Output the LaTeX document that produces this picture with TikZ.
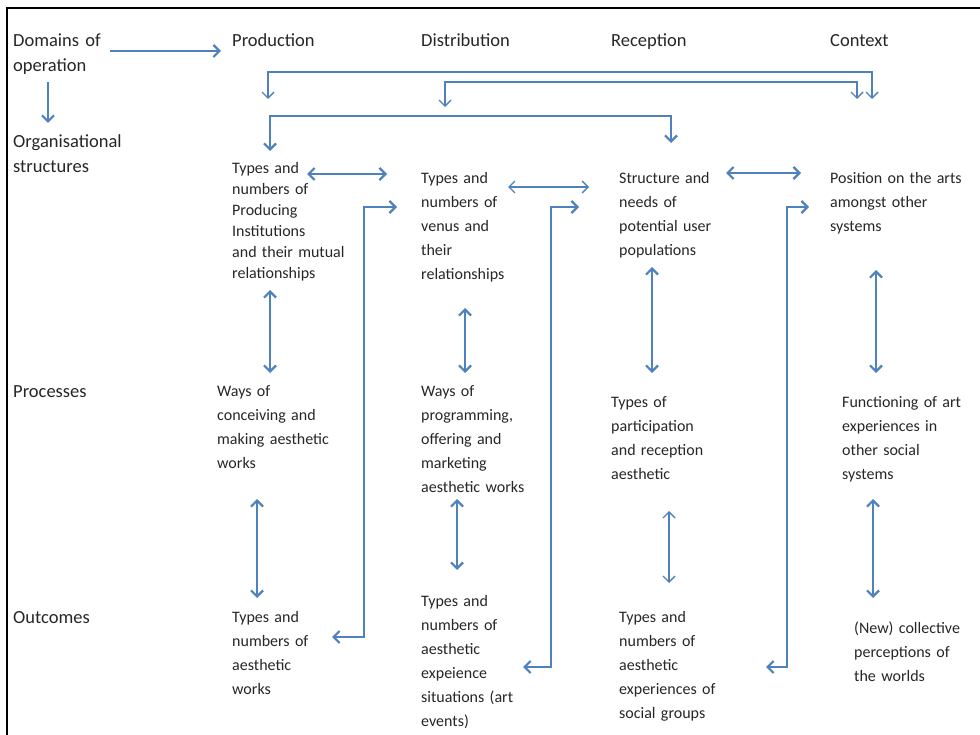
\documentclass[tikz,border=0pt]{standalone}
\usepackage{fontspec}
\setmainfont{Carlito}
\usetikzlibrary{arrows.meta}
\definecolor{linkblue}{RGB}{79,129,189}
\definecolor{inkgray}{RGB}{38,38,38}

\begin{document}
\begin{tikzpicture}[x=1pt,y=-1pt]
 \tikzset{
  heading/.style={anchor=base west,inner sep=0pt,text width=170pt,align=left,text=inkgray,font=\fontsize{18.5}{25}\selectfont},
  cell/.style={anchor=base west,inner sep=0pt,text width=150pt,align=left,text=inkgray,font=\fontsize{16}{24}\selectfont},
  barb/.tip={Straight Barb[length=6pt,width=12pt]},
  link/.style={draw=linkblue,line width=2.2pt,barb-barb},
  thinlink/.style={link,line width=1.4pt},
  pointer/.style={draw=linkblue,line width=2.2pt,-barb}
 }
 \useasboundingbox (0,0) rectangle (980,735);
 \draw[line width=2.5pt] (7,735) -- (7,8) -- (980,8);

 % row and column headings
 \node[heading] (dom) at (13,47) {Domains of\\operation};
 \node[heading] (org) at (13,148) {Organisational\\structures};
 \node[heading] (proc) at (13,397) {Processes};
 \node[heading] (outc) at (13,623) {Outcomes};
 \node[heading] (prod) at (232,47) {Production};
 \node[heading] (dist) at (421,47) {Distribution};
 \node[heading] (recp) at (611,47) {Reception};
 \node[heading] (ctx) at (830,47) {Context};

 % production
 \node[cell,font=\fontsize{16}{21}\selectfont] (ps) at (232,174) {Types and\\numbers of\\Producing\\Institutions\\and their mutual\\relationships};
 \node[cell] (pp) at (217,396) {Ways of\\conceiving and\\making aesthetic\\works};
 \node[cell] (po) at (232,622) {Types and\\numbers of\\aesthetic\\works};
 % distribution
 \node[cell] (ds) at (421,184) {Types and\\numbers of\\venus and\\their\\relationships};
 \node[cell] (dp) at (421,396) {Ways of\\programming,\\offering and\\marketing\\aesthetic works};
 \node[cell] (dout) at (421,606) {Types and\\numbers of\\aesthetic\\expeience\\situations (art\\events)};
 % reception
 \node[cell] (rs) at (619,184) {Structure and\\needs of\\potential user\\populations};
 \node[cell] (rp) at (611,407) {Types of\\participation\\and reception\\aesthetic};
 \node[cell] (ro) at (619,622) {Types and\\numbers of\\aesthetic\\experiences of\\social groups};
 % context
 \node[cell] (cs) at (830,184) {Position on the arts\\amongst other\\systems};
 \node[cell] (cp) at (842,407) {Functioning of art\\experiences in\\other social\\systems};
 \node[cell] (co) at (854,633) {(New) collective\\perceptions of\\the worlds};

 % arrow ends
 \coordinate (dom-e) at (110,51);   \coordinate (prod-w) at (221,51);
 \coordinate (dom-s) at (48,82);    \coordinate (org-n) at (48,123);
 \coordinate (prod-in) at (268,99); \coordinate (ctx-in) at (872,99);
 \coordinate (dist-in) at (445,107);\coordinate (ctx-in2) at (857,99);
 \coordinate (ps-in) at (270,151);  \coordinate (rs-in) at (671,143);
 \coordinate (ds-in) at (397,207);  \coordinate (po-in) at (332,637);
 \coordinate (rs-in2) at (579,207); \coordinate (dout-in) at (523,667);
 \coordinate (cs-in) at (809,207);  \coordinate (ro-in) at (766,667);
 \coordinate (ps-e) at (307,174);   \coordinate (ds-w) at (387,174);
 \coordinate (ds-e) at (508,187);   \coordinate (rs-w) at (589,187);
 \coordinate (rs-e) at (726,173);   \coordinate (cs-w) at (801,173);
 \coordinate (ps-s) at (270,290);   \coordinate (pp-n) at (270,373);
 \coordinate (pp-s) at (257,499);   \coordinate (po-n) at (257,598);
 \coordinate (ds-s) at (465,308);   \coordinate (dp-n) at (465,373);
 \coordinate (dp-s) at (457,499);   \coordinate (dout-n) at (457,570);
 \coordinate (rs-s) at (652,267);   \coordinate (rp-n) at (652,373);
 \coordinate (rp-s) at (669,511);   \coordinate (ro-n) at (669,583);
 \coordinate (cs-s) at (876,270);   \coordinate (cp-n) at (876,373);
 \coordinate (cp-s) at (873,499);   \coordinate (co-n) at (873,598);

 \draw[pointer] (dom-e) -- (prod-w);
 \draw[pointer] (dom-s) -- (org-n);

 % brackets across the top
 \draw[thinlink] (prod-in) -- ++(0,-27) -| (ctx-in);
 \draw[thinlink] (dist-in) -- ++(0,-25) -| (ctx-in2);
 \draw[link] (ps-in) -- ++(0,-35) -| (rs-in);

 % structures to outcomes of the column before
 \draw[link] (ds-in) -- ++(-33,0) |- (po-in);
 \draw[link] (rs-in2) -- ++(-28,0) |- (dout-in);
 \draw[link] (cs-in) -- ++(-22,0) |- (ro-in);

 % between structures
 \draw[link] (ps-e) -- (ds-w);
 \draw[thinlink] (ds-e) -- (rs-w);
 \draw[link] (rs-e) -- (cs-w);

 % down each column
 \draw[link] (ps-s) -- (pp-n);
 \draw[link] (pp-s) -- (po-n);
 \draw[link] (ds-s) -- (dp-n);
 \draw[link] (dp-s) -- (dout-n);
 \draw[link] (rs-s) -- (rp-n);
 \draw[thinlink] (rp-s) -- (ro-n);
 \draw[link] (cs-s) -- (cp-n);
 \draw[link] (cp-s) -- (co-n);
\end{tikzpicture}
\end{document}
